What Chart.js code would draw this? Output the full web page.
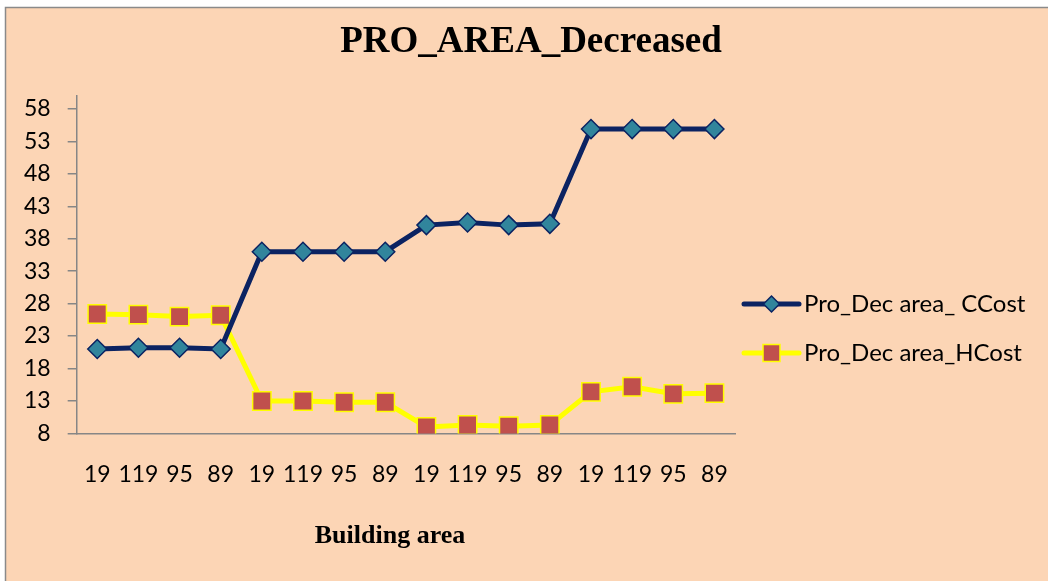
<!DOCTYPE html>
<html>
<head>
<meta charset="utf-8">
<script src="https://cdn.jsdelivr.net/npm/chart.js@4.4.1/dist/chart.umd.min.js"></script>
<style>
  html, body { margin: 0; padding: 0; background: #ffffff; }
  #wrap { position: absolute; left: 0; top: 0; width: 1048px; height: 581px; }
</style>
</head>
<body>
<div id="wrap"><canvas id="c" width="1048" height="581"></canvas></div>
<script>
// ---- data ----
const categories = ['19', '119', '95', '89', '19', '119', '95', '89', '19', '119', '95', '89', '19', '119', '95', '89'];
const cCost = [21.0, 21.2, 21.2, 21.0, 36.0, 36.0, 36.0, 36.0, 40.1, 40.5, 40.1, 40.3, 54.9, 54.9, 54.9, 54.9];
const hCost = [26.4, 26.3, 26.0, 26.2, 13.0, 13.0, 12.8, 12.8, 9.0, 9.3, 9.1, 9.3, 14.4, 15.2, 14.1, 14.2];
const yTicks = [8, 13, 18, 23, 28, 33, 38, 43, 48, 53, 58];
const seriesNames = ['Pro_Dec area_ CCost', 'Pro_Dec area_HCost'];
const chartTitle = 'PRO_AREA_Decreased';
const xTitle = 'Building area';

const PEACH = '#FCD5B5';
const AXIS = '#868686';
const SANS = 'Lato, "Liberation Sans", sans-serif';
const SERIF = '"Liberation Serif", "DejaVu Serif", serif';

const bgPlugin = {
  id: 'bg',
  beforeDraw(chart) {
    const ctx = chart.ctx;
    ctx.save();
    ctx.fillStyle = '#ffffff';
    ctx.fillRect(0, 0, chart.width, chart.height);
    ctx.fillStyle = PEACH;
    ctx.fillRect(5.5, 7.5, chart.width + 20, chart.height + 20);
    ctx.strokeStyle = '#8a8a8a';
    ctx.lineWidth = 1.5;
    ctx.strokeRect(5.5, 7.5, chart.width + 20, chart.height + 20);
    ctx.restore();
  }
};

// Title, x-axis title and legend (placed as in the reference)
const textPlugin = {
  id: 'texts',
  afterDraw(chart) {
    const ctx = chart.ctx;
    ctx.save();
    ctx.fillStyle = '#000000';
    ctx.textAlign = 'center';
    ctx.textBaseline = 'middle';
    ctx.font = 'bold 37px ' + SERIF;
    ctx.fillText(chartTitle, 531, 42);
    ctx.font = 'bold 26px ' + SERIF;
    ctx.fillText(xTitle, 390, 536);
    ctx.restore();

    const x0 = 744, x1 = 799, xm = (x0 + x1) / 2, tx = 804;
    const ys = [304, 353];
    chart.data.datasets.forEach((ds, i) => {
      const y = ys[i];
      ctx.save();
      ctx.strokeStyle = ds.borderColor;
      ctx.lineWidth = ds.borderWidth;
      ctx.lineCap = 'round';
      ctx.beginPath();
      ctx.moveTo(x0, y);
      ctx.lineTo(x1, y);
      ctx.stroke();
      ctx.fillStyle = ds.pointBackgroundColor;
      ctx.strokeStyle = ds.pointBorderColor;
      ctx.lineWidth = ds.pointBorderWidth;
      Chart.helpers.drawPoint(ctx, {
        pointStyle: ds.pointStyle,
        radius: ds.legendRadius,
        rotation: 0,
        borderWidth: ds.pointBorderWidth
      }, xm, y);
      ctx.fillStyle = '#000000';
      ctx.font = '24px ' + SANS;
      ctx.textAlign = 'left';
      ctx.textBaseline = 'middle';
      ctx.fillText(ds.label, tx, y);
      ctx.restore();
    });
  }
};

new Chart(document.getElementById('c'), {
  type: 'line',
  data: {
    labels: categories,
    datasets: [
      {
        label: seriesNames[0],
        data: cCost,
        borderColor: '#0B2362',
        borderWidth: 5,
        pointStyle: 'rectRot',
        pointRadius: 9.5,
        pointHoverRadius: 9.5,
        legendRadius: 8,
        pointBackgroundColor: '#31859C',
        pointBorderColor: '#0B2362',
        pointBorderWidth: 1.5,
        tension: 0
      },
      {
        label: seriesNames[1],
        data: hCost,
        borderColor: '#FFFF00',
        borderWidth: 5,
        pointStyle: 'rect',
        pointRadius: 13,
        pointHoverRadius: 13,
        legendRadius: 12,
        pointBackgroundColor: '#C0504D',
        pointBorderColor: '#FFFF00',
        pointBorderWidth: 1.5,
        tension: 0
      }
    ]
  },
  options: {
    responsive: false,
    animation: false,
    devicePixelRatio: 1,
    layout: { padding: { left: 7, right: 313, top: 96, bottom: 66 } },
    plugins: {
      legend: { display: false },
      tooltip: { enabled: false },
      title: { display: false }
    },
    scales: {
      x: {
        offset: true,
        grid: { display: false, drawTicks: false },
        border: { display: true, color: AXIS, width: 1.5 },
        ticks: {
          autoSkip: false,
          maxRotation: 0,
          minRotation: 0,
          color: '#000000',
          padding: 27,
          font: { family: SANS, size: 23 }
        }
      },
      y: {
        min: 8,
        max: 60,
        afterBuildTicks: (axis) => { axis.ticks = yTicks.map(v => ({ value: v })); },
        grid: { drawOnChartArea: false, drawTicks: true, tickLength: 9, color: AXIS, lineWidth: 1.5 },
        border: { display: true, color: AXIS, width: 1.5 },
        ticks: {
          color: '#000000',
          padding: 17,
          font: { family: SANS, size: 23 }
        }
      }
    }
  },
  plugins: [bgPlugin, textPlugin]
});
</script>
</body>
</html>
